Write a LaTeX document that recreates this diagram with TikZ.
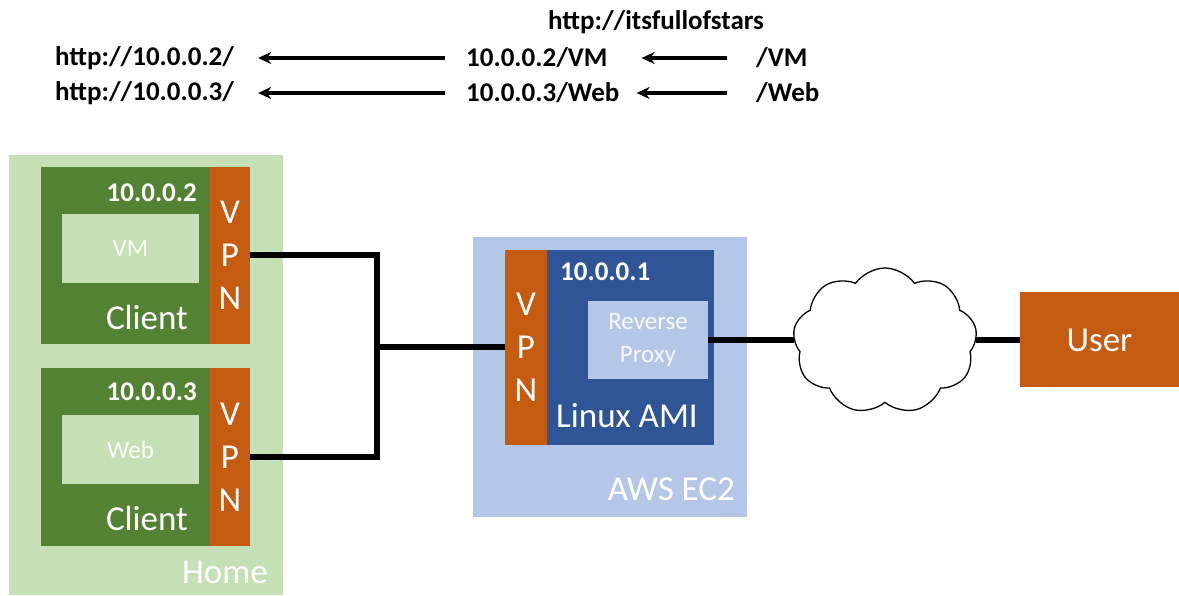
\documentclass[tikz,border=0pt]{standalone}
\usepackage{fontspec}
\setmainfont{Carlito}
\usetikzlibrary{arrows.meta,shapes.symbols}
\definecolor{homegreen}{HTML}{C5E0B4}
\definecolor{clientgreen}{HTML}{548235}
\definecolor{vpnorange}{HTML}{C55A11}
\definecolor{awsblue}{HTML}{B4C7E7}
\definecolor{amiblue}{HTML}{2F5597}
\definecolor{vmtext}{HTML}{FAFDF8}
\definecolor{proxytext}{HTML}{F6F8FD}
\begin{document}
\begin{tikzpicture}[>={Stealth[length=13bp,width=12bp]},line join=miter,
  area/.style={fill=#1,draw=none,inner sep=0pt},
  big/.style={font=\fontsize{35bp}{43bp}\selectfont,text=white,inner sep=0pt},
  ip/.style={font=\bfseries\fontsize{27bp}{32bp}\selectfont,text=white,inner sep=0pt},
  url/.style={font=\bfseries\fontsize{27bp}{32bp}\selectfont,inner sep=0pt},
  inner/.style={font=\fontsize{25bp}{33bp}\selectfont,align=center},
  vpn/.style={area=vpnorange,big,align=center},
  link/.style={line width=6bp},
  rewrite/.style={->,line width=3.5bp}]
\useasboundingbox (0bp,0bp) rectangle (1179bp,596bp);
%% home side
\node (home) at (146bp,221bp) [area=homegreen,minimum width=274bp,minimum height=440bp] {};
\node (homelbl) at (268bp,24bp) [big,anchor=east] {Home};
%
\node (clientA) at (125.5bp,340.5bp) [area=clientgreen,minimum width=169bp,minimum height=177bp] {};
\node (vpnA) at (230bp,340.5bp) [vpn,minimum width=40bp,minimum height=177bp] {V\\P\\N};
\node (vm) at (130.5bp,347.5bp) [area=homegreen,inner,text=vmtext,minimum width=137bp,minimum height=69bp] {VM};
\node (ipA) at (197bp,403bp) [ip,anchor=east] {10.0.0.2};
\node (clientAlbl) at (147bp,279bp) [big] {Client};
%
\node (clientB) at (125.5bp,139bp) [area=clientgreen,minimum width=169bp,minimum height=178bp] {};
\node (vpnB) at (230bp,139bp) [vpn,minimum width=40bp,minimum height=178bp] {V\\P\\N};
\node (web) at (130.5bp,146.5bp) [area=homegreen,inner,text=vmtext,minimum width=137bp,minimum height=69bp] {Web};
\node (ipB) at (197bp,204bp) [ip,anchor=east] {10.0.0.3};
\node (clientBlbl) at (147bp,78bp) [big] {Client};
%% aws side
\node (aws) at (610bp,219bp) [area=awsblue,minimum width=274bp,minimum height=280bp] {};
\node (awslbl) at (735bp,107bp) [big,anchor=east] {AWS EC2};
\node (vpnE) at (526bp,248.5bp) [vpn,minimum width=42bp,minimum height=195bp] {V\\P\\N};
\node (ami) at (630.5bp,248.5bp) [area=amiblue,minimum width=167bp,minimum height=195bp] {};
\node (proxy) at (648bp,256bp) [area=awsblue,inner,text=proxytext,minimum width=120bp,minimum height=78bp] {Reverse\\Proxy};
\node (ipE) at (560bp,324bp) [ip,anchor=west] {10.0.0.1};
\node (amilbl) at (627bp,180bp) [big] {Linux AMI};
%
\node (cloud) at (885bp,255bp) [cloud,draw,fill=white,line width=1.3bp,cloud puffs=9,cloud puff arc=110,aspect=1.3,minimum width=184bp,minimum height=146bp,inner sep=0pt] {};
\node (user) at (1099.5bp,256bp) [area=vpnorange,big,minimum width=159bp,minimum height=95bp] {User};
%% wires
\coordinate (junc) at (377bp,248.5bp);
\draw [link] (vpnA.east) -| (junc) |- (vpnB.east);
\draw [link] (junc) -- (vpnE.west);
\draw [link] (proxy.east) -- (proxy.east -| cloud.west);
\draw [link] (cloud.east |- user.west) -- (user.west);
%% url rewriting
\node (site) at (656bp,574bp) [url] {http://itsfullofstars};
\node (hostA) at (55bp,538bp) [url,anchor=west] {http://10.0.0.2/};
\node (hostB) at (55bp,503bp) [url,anchor=west] {http://10.0.0.3/};
\node (pathA) at (466bp,538bp) [url,anchor=west] {10.0.0.2/VM};
\node (pathB) at (466bp,503bp) [url,anchor=west] {10.0.0.3/Web};
\node (reqA) at (756bp,538bp) [url,anchor=west] {/VM};
\node (reqB) at (756bp,503bp) [url,anchor=west] {/Web};
\draw [rewrite,shorten <=21bp,shorten >=24bp] (pathA.west) -- (hostA.east);
\draw [rewrite,shorten <=21bp,shorten >=24bp] (pathB.west) -- (hostB.east);
\draw [rewrite,shorten <=29bp,shorten >=34bp] (reqA.west) -- (pathA.east);
\draw [rewrite,shorten <=29bp,shorten >=17bp] (reqB.west) -- (pathB.east);
%
\end{tikzpicture}
\end{document}
